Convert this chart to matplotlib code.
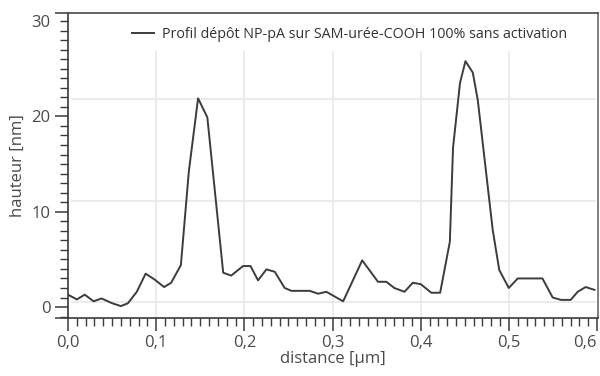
import matplotlib
matplotlib.use("Agg")
import matplotlib.pyplot as plt
from matplotlib.ticker import FixedLocator, MultipleLocator, FuncFormatter

# profile
distance_um = [0.000, 0.010, 0.019, 0.029, 0.038, 0.050, 0.060, 0.068, 0.078,
               0.088, 0.098, 0.109, 0.117, 0.128, 0.137, 0.1475, 0.158, 0.176,
               0.185, 0.1985, 0.207, 0.2155, 0.225, 0.2345, 0.2457, 0.2533,
               0.274, 0.2835, 0.293, 0.312, 0.3336, 0.3515, 0.361, 0.370,
               0.3816, 0.391, 0.400, 0.412, 0.422, 0.429, 0.433, 0.4366,
               0.4445, 0.4507, 0.459, 0.4647, 0.4816, 0.489, 0.4998, 0.510,
               0.538, 0.5496, 0.559, 0.570, 0.578, 0.587, 0.597]
hauteur_nm = [1.3, 0.8, 1.3, 0.6, 0.9, 0.4, 0.1, 0.4, 1.6,
              3.5, 2.9, 2.1, 2.55, 4.4, 14.2, 21.9, 19.9, 3.6,
              3.3, 4.3, 4.3, 2.8, 3.95, 3.7, 2.0, 1.7,
              1.7, 1.4, 1.6, 0.6, 4.9, 2.65, 2.65, 2.0,
              1.6, 2.55, 2.4, 1.5, 1.5, 4.9, 6.85, 16.7,
              23.5, 25.8, 24.6, 21.7, 8.1, 3.9, 2.0, 3.0,
              3.0, 1.0, 0.75, 0.75, 1.6, 2.1, 1.8]
series_label = "Profil dépôt NP-pA sur SAM-urée-COOH 100% sans activation"
x_ticks = [0.0, 0.1, 0.2, 0.3, 0.4, 0.5, 0.6]
y_ticks = [0, 10, 20]

# layout / style
YLO, YHI = -1.15, 30.85
XLO, XHI = 0.0, 0.601
HGRID = [0.5, 11.1, 21.8]
GRID_TOP = 26.8
LINE_C = "#3c3c3c"
TEXT_C = "#4a4a4a"
GRID_C = "#e8e8e8"
TICK_FS = 12

plt.rcParams["font.family"] = ["Open Sans", "DejaVu Sans"]

fig = plt.figure(figsize=(6.0, 3.76), dpi=100)
ax = fig.add_axes([68 / 600, 58 / 376, 530 / 600, 305 / 376])

# grid (vertical lines stop below the legend like in the source)
grid_frac = (GRID_TOP - YLO) / (YHI - YLO)
for xv in x_ticks[1:-1]:
    ax.axvline(xv, ymin=0, ymax=grid_frac, color=GRID_C, lw=1.2, zorder=0)
for yv in HGRID:
    ax.axhline(yv, xmin=0.007, xmax=0.995, color=GRID_C, lw=1.2, zorder=0)

ax.plot(distance_um, hauteur_nm, color=LINE_C, lw=1.4, label=series_label)

ax.set_xlim(XLO, XHI)
ax.set_ylim(YLO, YHI)

# x axis: major ticks every 0.1 with comma decimals, minor every 0.01
ax.xaxis.set_major_locator(FixedLocator(x_ticks))
ax.xaxis.set_minor_locator(MultipleLocator(0.01))
ax.xaxis.set_major_formatter(FuncFormatter(lambda v, p: f"{v:.1f}".replace(".", ",")))

# y axis: long ticks at 0/10/20 and at the frame corners, "30" on a minor tick
ax.yaxis.set_major_locator(FixedLocator([YLO] + y_ticks + [YHI]))
ax.yaxis.set_major_formatter(FuncFormatter(lambda v, p: "" if v in (YLO, YHI) else f"{v:.0f}"))
ax.yaxis.set_minor_locator(MultipleLocator(1))
ax.yaxis.set_minor_formatter(FuncFormatter(lambda v, p: "30" if abs(v - 30) < 1e-6 else ""))

ax.tick_params(axis="both", which="major", direction="out", length=9.5, width=1.1,
               color="#3a3a3a", labelcolor=TEXT_C, labelsize=TICK_FS, pad=3)
ax.tick_params(axis="x", which="minor", direction="out", length=5.5, width=1.0,
               color="#3a3a3a")
ax.tick_params(axis="y", which="minor", direction="out", length=6, width=1.0,
               color="#3a3a3a", labelcolor=TEXT_C, labelsize=TICK_FS, pad=6.5)

# last x label sits inside the figure, as in the source
fig.canvas.draw()
ax.get_xticklabels()[-1].set_horizontalalignment("right")

for side in ["left", "bottom", "top", "right"]:
    ax.spines[side].set_color("#3a3a3a")
    ax.spines[side].set_linewidth(1.2)
ax.spines["right"].set_color("#6a6a6a")
ax.spines["top"].set_color("#4a4a4a")

ax.set_xlabel("distance [µm]", color=TEXT_C, fontsize=12, labelpad=0)
ax.set_ylabel("hauteur [nm]", color=TEXT_C, fontsize=12, labelpad=4)

leg = ax.legend(loc="upper left", bbox_to_anchor=(0.12, 0.955), frameon=False,
                borderaxespad=0, borderpad=0, handlelength=1.6, handletextpad=0.5,
                fontsize=10.3)
for t in leg.get_texts():
    t.set_color("#333333")

fig.savefig("out.png", dpi=100)
